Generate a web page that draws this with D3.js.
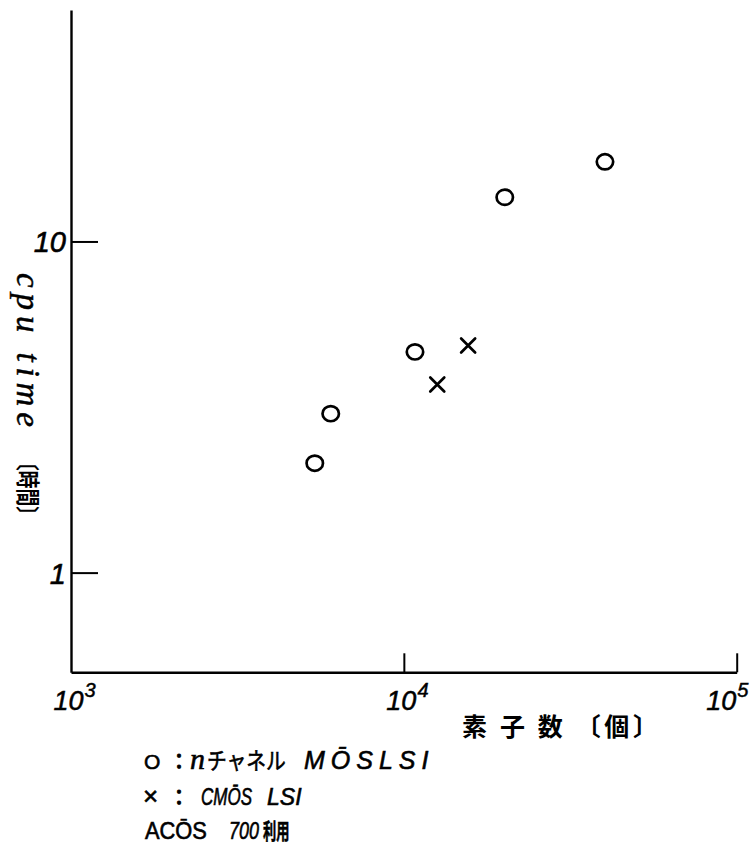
<!DOCTYPE html>
<html><head><meta charset="utf-8">
<script src="https://cdn.jsdelivr.net/npm/d3@7"></script>
<style>
html,body{margin:0;padding:0;background:#fff;}
svg{display:block;}
</style>
</head><body>
<script>
// ---- data ----
const nmosX = [5400, 6030, 10800, 20100, 40200];
const nmosY = [2.14, 3.02, 4.64, 13.6, 17.4];
const cmosX = [12600, 15600];
const cmosY = [3.70, 4.85];
const xTicks = [1e3, 1e4, 1e5];
const xTickExp = ["3", "4", "5"];
const yTicks = [1, 10];
const yTickLabels = ["1", "10"];
const xTitle = "素 子 数 〔個〕";
const yTitleA = "cpu time";
const yTitleB = "〔時間〕";

const W = 754, H = 846;
const svg = d3.select("body").append("svg").attr("width", W).attr("height", H);

const x = d3.scaleLog().domain([1e3, 1e5]).range([71, 736.7]);
const y = d3.scaleLog().domain([0.5, 50]).range([672.3, 10]);

const numFont = "'Liberation Sans', Arial, sans-serif";
const cjk = "'Noto Sans CJK JP', sans-serif";

// y axis
const yAxis = d3.axisLeft(y).tickValues(yTicks).tickSizeInner(-27).tickSizeOuter(0)
  .tickFormat((d, i) => yTickLabels[i]);
const gy = svg.append("g").attr("transform", "translate(71,0)").call(yAxis);
gy.select(".domain").attr("stroke", "#000").attr("stroke-width", 2.4);
gy.selectAll(".tick line").attr("stroke", "#000").attr("stroke-width", 2);
gy.selectAll(".tick text").attr("x", -5).attr("dy", "0.36em")
  .attr("font-family", numFont).attr("font-style", "italic").attr("font-size", 29)
  .attr("fill", "#000").attr("stroke", "#000").attr("stroke-width", 0.6);

// x axis
const xAxis = d3.axisBottom(x).tickValues(xTicks).tickSizeInner(0).tickSizeOuter(0).tickFormat("");
const gx = svg.append("g").attr("transform", "translate(0,672.3)").call(xAxis);
gx.select(".domain").attr("stroke", "#000").attr("stroke-width", 2.4);
gx.selectAll(".tick").each(function(d, i) {
  const g = d3.select(this);
  if (i > 0) g.append("line").attr("y1", 0).attr("y2", -19).attr("stroke", "#000").attr("stroke-width", 2);
  const last = i === xTicks.length - 1;
  const t = g.append("text").attr("x", last ? -31 : -18).attr("y", 38).attr("text-anchor", "start")
    .attr("font-family", numFont).attr("font-style", "italic").attr("fill", "#000")
    .attr("stroke", "#000").attr("stroke-width", 0.5);
  t.append("tspan").attr("font-size", 27).text("10");
  t.append("tspan").attr("font-size", 20).attr("dx", 1).attr("dy", -13).text(xTickExp[i]);
});

// axis titles
svg.append("text").attr("x", 462).attr("y", 736)
  .attr("font-family", cjk).attr("font-size", 25).attr("font-weight", 700)
  .attr("textLength", 196).attr("lengthAdjust", "spacing").text(xTitle);

const yt = svg.append("g").attr("transform", "translate(17,0) rotate(90)");
yt.append("text").attr("x", 273).attr("y", 0)
  .attr("font-family", "'Liberation Serif', serif").attr("font-style", "italic").attr("font-size", 33)
  .attr("stroke", "#000").attr("stroke-width", 0.5)
  .attr("textLength", 154).attr("lengthAdjust", "spacing").text(yTitleA);
yt.append("text").attr("transform", "translate(453,-2) scale(0.74,1)")
  .attr("font-family", cjk).attr("font-size", 24).attr("font-weight", 700)
  .text(yTitleB);

// points
svg.append("g").selectAll("ellipse").data(nmosX.map((v, i) => [v, nmosY[i]])).join("ellipse")
  .attr("cx", d => x(d[0])).attr("cy", d => y(d[1])).attr("rx", 8.2).attr("ry", 7.6)
  .attr("fill", "none").attr("stroke", "#000").attr("stroke-width", 2.7);

const s = 7;
svg.append("g").selectAll("path").data(cmosX.map((v, i) => [v, cmosY[i]])).join("path")
  .attr("d", d => {
    const cx = x(d[0]), cy = y(d[1]);
    return `M${cx - s},${cy - s}L${cx + s},${cy + s}M${cx + s},${cy - s}L${cx - s},${cy + s}`;
  })
  .attr("fill", "none").attr("stroke", "#000").attr("stroke-width", 2.7).attr("stroke-linecap", "round");

// legend
function lt(xp, yp, txt, opts) {
  const sx = opts.sx || 1;
  const t = svg.append("text").attr("transform", `translate(${xp},${yp}) scale(${sx},1)`)
    .attr("fill", "#000").text(txt)
    .attr("font-family", opts.font || numFont).attr("font-size", opts.size || 24)
    .attr("stroke", "#000").attr("stroke-width", opts.sw == null ? 0.6 : opts.sw);
  if (opts.italic) t.attr("font-style", "italic");
  if (opts.ls) t.attr("letter-spacing", opts.ls);
  if (opts.weight) t.attr("font-weight", opts.weight);
  return t;
}
lt(144, 769, "O", {size: 21});
lt(168, 769, "：", {font: cjk, size: 22, sw: 0.8});
lt(190, 769, "n", {italic: true, font: "'Liberation Serif', serif", size: 30});
lt(207, 769, "チャネル", {font: cjk, size: 23, sx: 0.86});
lt(304, 769, "MŌSLSI", {italic: true, size: 25, ls: 6});
lt(143, 805, "×", {size: 26});
lt(168, 805, "：", {font: cjk, size: 22, sw: 0.8});
lt(201, 805, "CMŌS", {italic: true, size: 23, sx: 0.74});
lt(267, 805, "LSI", {italic: true, size: 23});
lt(145, 839, "ACŌS", {size: 23, sx: 0.95});
lt(229, 839, "700", {italic: true, size: 23, sx: 0.78});
lt(263, 839, "利用", {font: cjk, size: 22, weight: 700, sx: 0.6});
</script>
</body></html>
